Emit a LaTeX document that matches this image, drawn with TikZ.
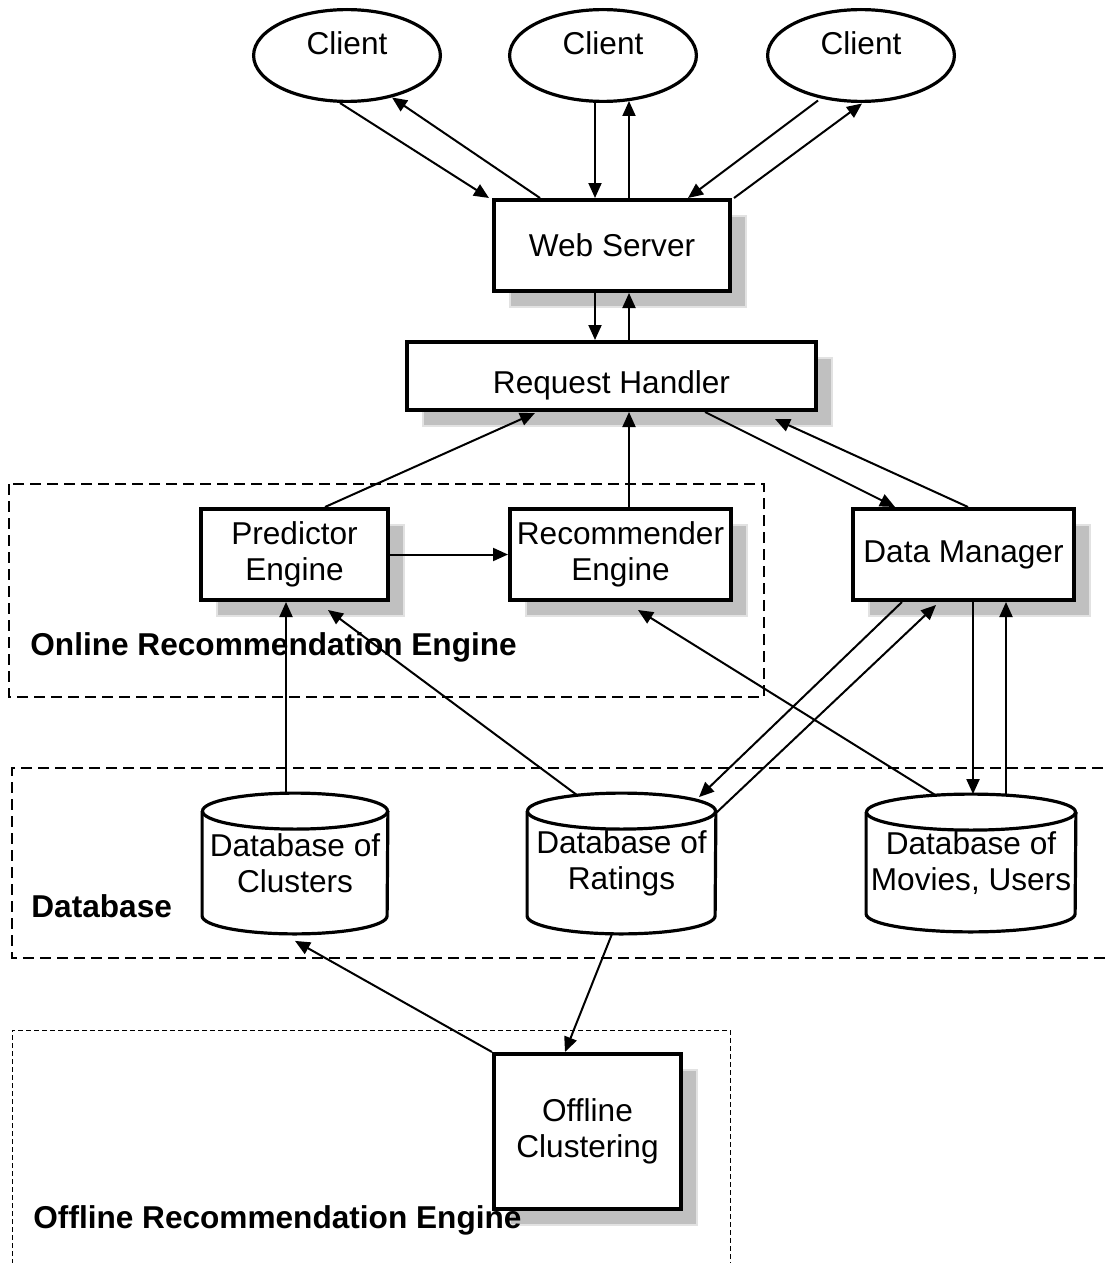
\documentclass[tikz,border=0pt]{standalone}
\usepackage{fontspec}
\setmainfont{Liberation Sans}
\usetikzlibrary{arrows.meta,calc,shapes.geometric,shadows}
\definecolor{shadowgray}{RGB}{192,192,192}
\definecolor{shadowedge}{RGB}{226,226,226}
\newcommand\dgfont{\fontsize{15.8pt}{18pt}\selectfont}
\newcommand\drawcyl[2]{%
  \draw[cylline] ($(#1.north west)+(0,18)$) -- ($(#1.south west)+(0,-18)$)
     arc[start angle=180,end angle=360,x radius=#2,y radius=9pt] -- ($(#1.north east)+(0,18)$);
  \draw[cylline] ($(#1.north)+(0,18)$) ellipse[x radius=#2,y radius=9pt];
}
\tikzset{
  x=0.5pt, y=-0.5pt,
  box/.style={draw, line width=2pt, fill=white, inner sep=0pt, align=center, font=\dgfont,
    drop shadow={shadow xshift=8pt, shadow yshift=-8pt, opacity=1, fill=shadowgray,
      draw=shadowedge, line width=1pt}},
  client/.style={ellipse, draw, line width=1.6pt, fill=white, inner sep=0pt,
    minimum width=93.4pt, minimum height=45.9pt, font=\dgfont},
  dbnode/.style={inner sep=0pt, align=center, font=\dgfont},
  cylline/.style={line width=1.6pt},
  arr/.style={-{Triangle[length=7.5pt,width=6.5pt]}, line width=1pt},
  grpdash/.style={line width=0.6pt, dash pattern=on 5.5pt off 3pt},
  grpfine/.style={line width=0.5pt, dash pattern=on 2.5pt off 1.5pt},
  grouplabel/.style={font=\dgfont\bfseries, inner sep=0pt, anchor=base west}
}
\begin{document}
\begin{tikzpicture}
\useasboundingbox[fill=white] (0,0) rectangle (1104,1263);

% group frames
\draw[grpdash] (9,484) rectangle (764,697);
\draw[grpdash] (1120,768) -- (12,768) -- (12,958) -- (1120,958);
\draw[grpfine] (12,1280) -- (12,1030) -- (730,1030) -- (730,1280);

% clients
\node[client] (c1) at (347,55.5) {\raisebox{6pt}[\height][\depth]{Client}};
\node[client] (c2) at (603,55.5) {\raisebox{6pt}[\height][\depth]{Client}};
\node[client] (c3) at (861,55.5) {\raisebox{6pt}[\height][\depth]{Client}};

% boxes
\node[box, minimum width=118pt, minimum height=45.5pt] (ws) at (612,245.5) {Web Server};
\node[box, minimum width=204.5pt, minimum height=34pt] (rh) at (611.5,376)
  {\raisebox{-4.5pt}[\height][\depth]{Request Handler}};
\node[box, minimum width=93.5pt, minimum height=45.5pt] (pe) at (294.5,554.5) {Predictor\\Engine};
\node[box, minimum width=110.5pt, minimum height=45.5pt] (re) at (620.5,554.5) {Recommender\\Engine};
\node[box, minimum width=110.5pt, minimum height=45.5pt] (dm) at (963.5,554.5) {Data Manager};
\node[box, minimum width=93.5pt, minimum height=77.5pt] (oc) at (587.5,1131.5) {Offline\\Clustering};

% databases
\node[dbnode, minimum width=92.5pt, minimum height=70pt] (dbc) at (295,863.5) {Database of\\Clusters};
\node[dbnode, minimum width=94pt, minimum height=70pt] (dbr) at (621.5,863.5) {Database of\\Ratings};
\node[dbnode, minimum width=104.5pt, minimum height=68.5pt] (dbm) at (971,863) {Database of\\Movies, Users};
\drawcyl{dbc}{46.25pt}
\drawcyl{dbr}{47pt}
\drawcyl{dbm}{52.25pt}

% group labels
\node[grouplabel] (lon) at (30,655) {Online Recommendation Engine};
\node[grouplabel] (ldb) at (31,917) {Database};
\node[grouplabel] (loff) at (33,1228) {Offline Recommendation Engine};

% clients <-> web server
\draw[arr] ($(c1.center)+(-7,47.5)$) -- ($(ws.north west)+(-3,0)$);
\draw[arr] ($(ws.north west)+(48,0)$) -- ($(c1.center)+(45,42)$);
\draw[arr] ($(c2.center)+(-8,47.5)$) -- ($(ws.north)+(-17,0)$);
\draw[arr] ($(ws.north)+(17,0)$) -- ($(c2.center)+(26,45.5)$);
\draw[arr] ($(c3.center)+(-43,45)$) -- ($(ws.north east)+(-44,0)$);
\draw[arr] ($(ws.north east)+(2,0)$) -- ($(c3.center)+(1,48)$);

% web server <-> request handler
\draw[arr] ($(ws.south)+(-17,0)$) -- ($(rh.north)+(-16.5,0)$);
\draw[arr] ($(rh.north)+(17.5,0)$) -- ($(ws.south)+(17,0)$);

% request handler connections
\draw[arr] ($(pe.north)+(30.5,0)$) -- ($(rh.south west)+(130,1)$);
\draw[arr] ($(re.north)+(8.5,0)$) -- ($(rh.south)+(17.5,0)$);
\draw[arr] ($(rh.south)+(93.5,0)$) -- ($(dm.north west)+(44,0)$);
\draw[arr] ($(dm.north)+(4.5,0)$) -- ($(rh.south)+(163.5,7)$);

% online engine
\draw[arr] (pe.east) -- (re.west);

% databases
\draw[arr] ($(dbc.north)+(-9,0)$) -- ($(pe.south)+(-8.5,0)$);
\draw[arr] ($(dbr.north)+(-44.5,2)$) -- ($(pe.south)+(33.5,8)$);
\draw[arr] ($(dbm.north)+(-34,2)$) -- ($(re.south)+(17.5,8)$);
\draw[arr] ($(dm.south west)+(51,0)$) -- ($(dbr.north)+(77.5,4)$);
\draw[arr] ($(dbr.north east)+(0,20)$) -- ($(dm.south west)+(85,3)$);
\draw[arr] ($(dm.south)+(9.5,0)$) -- ($(dbm.north)+(2,0)$);
\draw[arr] ($(dbm.north)+(35,1)$) -- ($(dm.south)+(42.5,0)$);

% offline
\draw[arr] (oc.north west) -- ($(dbc.south)+(0,7)$);
\draw[arr] ($(dbr.south)+(-9.5,0)$) -- ($(oc.north)+(-22.5,0)$);
\end{tikzpicture}
\end{document}
